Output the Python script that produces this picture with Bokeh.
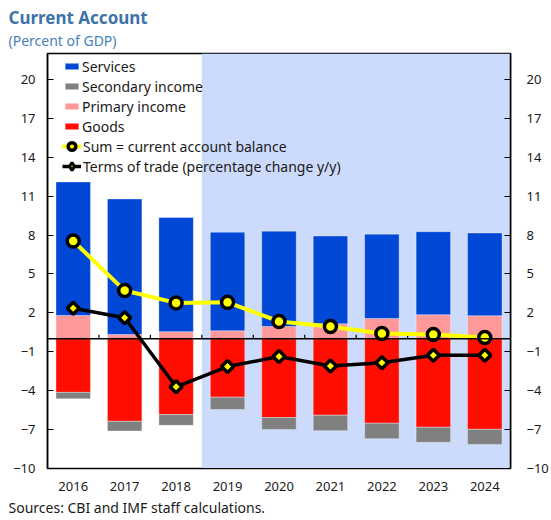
import numpy as np
from bokeh.plotting import figure
from bokeh.models import (ColumnDataSource, BoxAnnotation, Span, LinearAxis, FixedTicker,
                          Legend, LegendItem, Title, Range1d)
from bokeh.embed import file_html
from bokeh.resources import INLINE

# ---------------- data ----------------
years = ["2016", "2017", "2018", "2019", "2020", "2021", "2022", "2023", "2024"]
services = [10.3, 10.45, 8.8, 7.6, 7.35, 6.77, 6.5, 6.4, 6.38]
primary_income = [1.8, 0.33, 0.55, 0.62, 0.95, 1.16, 1.57, 1.86, 1.78]
goods = [-4.13, -6.36, -5.84, -4.5, -6.07, -5.89, -6.51, -6.82, -6.98]
secondary_income = [-0.5, -0.75, -0.83, -0.95, -0.93, -1.19, -1.19, -1.16, -1.16]
current_account = [7.54, 3.72, 2.77, 2.81, 1.34, 0.95, 0.41, 0.33, 0.1]
terms_of_trade = [2.35, 1.63, -3.7, -2.14, -1.37, -2.09, -1.84, -1.27, -1.27]
y_ticks = [-10, -7, -4, -1, 2, 5, 8, 11, 14, 17, 20]
projection_start = "2019"

FONT = "Noto Sans"
TXT = "#1a1a1a"

W, H = 551, 520
BL, BR, BT, BB = 47, 41, 53, 52
FRAME_H = H - BT - BB

x = list(range(len(years)))
src = ColumnDataSource(dict(x=x, services=services, primary=primary_income, goods=goods,
                            secondary=secondary_income, ca=current_account, tot=terms_of_trade))

p = figure(width=W, height=H, x_range=Range1d(-0.5, len(years) - 0.5), y_range=Range1d(-10, 22),
           output_backend="svg", toolbar_location=None, title=None,
           min_border_left=BL, min_border_right=BR, min_border_top=BT, min_border_bottom=BB)
p.xgrid.visible = False
p.ygrid.visible = False
p.outline_line_color = "black"
p.outline_line_width = 1.5
p.background_fill_color = "white"
p.border_fill_color = "white"

# shaded projection area
start = years.index(projection_start) - 0.5
p.add_layout(BoxAnnotation(left=start, fill_color="#CCDAFB", fill_alpha=1.0, line_alpha=0, level="underlay"))

bar_w = 0.67
pos = p.vbar_stack(["primary", "services"], x="x", width=bar_w, source=src,
                   fill_color=["#FF9999", "#0047D6"], line_color="white", line_alpha=0.35, line_width=1)
neg = p.vbar_stack(["goods", "secondary"], x="x", width=bar_w, source=src,
                   fill_color=["#FF0D00", "#808080"], line_color="white", line_alpha=0.35, line_width=1)

# zero line and boundary ticks
p.add_layout(Span(location=0, dimension="width", line_color="black", line_width=1.5))
bounds = [i + 0.5 for i in x[:-1]]
p.segment(x0=bounds, y0=[0] * len(bounds), x1=bounds, y1=[0.32] * len(bounds),
          line_color="black", line_width=1.2)

ca_line = p.line("x", "ca", source=src, line_color="#FFFF00", line_width=4)
ca_pts = p.scatter("x", "ca", source=src, marker="circle", size=12, fill_color="#FFFF00",
                   line_color="black", line_width=3.5)
tot_line = p.line("x", "tot", source=src, line_color="black", line_width=3.5)
tot_pts = p.scatter("x", "tot", source=src, marker="square", angle=np.pi / 4, size=8.5,
                    fill_color="#FFFF00", line_color="black", line_width=3.5)
# legend-only proxy (legend glyphs ignore angle), hidden on the plot
tot_key = p.scatter(x=x[:1], y=terms_of_trade[:1], marker="diamond", size=10, fill_color="#FFFF00",
                    line_color="black", line_width=3, visible=False)

# axes
p.xaxis.ticker = FixedTicker(ticks=x)
p.xaxis.major_label_overrides = {i: y for i, y in enumerate(years)}
p.xaxis.major_tick_line_color = None
p.xaxis.minor_tick_line_color = None
p.xaxis.axis_line_color = "black"
p.xaxis.major_label_text_font = FONT
p.xaxis.major_label_text_font_size = "13px"
p.xaxis.major_label_text_color = TXT
p.xaxis.major_label_standoff = 7

def style_y(ax, standoff):
    ax.ticker = FixedTicker(ticks=y_ticks)
    ax.major_tick_in = 6
    ax.major_tick_out = 0
    ax.major_tick_line_color = "black"
    ax.minor_tick_line_color = None
    ax.axis_line_color = "black"
    ax.axis_line_width = 1.5
    ax.major_label_text_font = FONT
    ax.major_label_text_font_size = "13px"
    ax.major_label_text_color = TXT
    ax.major_label_standoff = standoff

style_y(p.yaxis[0], 12)
right = LinearAxis()
style_y(right, 16)
p.add_layout(right, "right")

# legends
leg1 = Legend(items=[LegendItem(label="Services", renderers=[pos[1]]),
                     LegendItem(label="Secondary income", renderers=[neg[1]]),
                     LegendItem(label="Primary income", renderers=[pos[0]]),
                     LegendItem(label="Goods", renderers=[neg[0]])],
              location=(16, FRAME_H - 3 - 80), glyph_width=17, glyph_height=8, label_height=20,
              label_standoff=2, spacing=0, padding=0, margin=0,
              background_fill_alpha=0, border_line_alpha=0,
              label_text_font=FONT, label_text_font_size="14px", label_text_color=TXT)
leg2 = Legend(items=[LegendItem(label="Sum = current account balance", renderers=[ca_line, ca_pts]),
                     LegendItem(label="Terms of trade (percentage change y/y)", renderers=[tot_line, tot_key])],
              location=(15, FRAME_H - 83 - 40), glyph_width=19, glyph_height=20, label_height=20,
              label_standoff=2, spacing=0, padding=0, margin=0,
              background_fill_alpha=0, border_line_alpha=0,
              label_text_font=FONT, label_text_font_size="14px", label_text_color=TXT)
p.add_layout(leg1)
p.add_layout(leg2)

# titles and note
sub = Title(text="(Percent of GDP)", text_font=FONT, text_font_size="14px", text_font_style="normal",
            text_color="#4A82BA", align="left", offset=-39, standoff=7)
main = Title(text="Current Account", text_font=FONT, text_font_size="17px", text_font_style="bold",
             text_color="#3D73A6", align="left", offset=-39, standoff=-6)
p.add_layout(sub, "above")
p.add_layout(main, "above")
note = Title(text="Sources: CBI and IMF staff calculations.", text_font=FONT, text_font_size="14px",
             text_font_style="normal", text_color=TXT, align="left", offset=-39, standoff=5)
p.add_layout(note, "below")

open("out.html", "w").write(file_html(p, INLINE))
